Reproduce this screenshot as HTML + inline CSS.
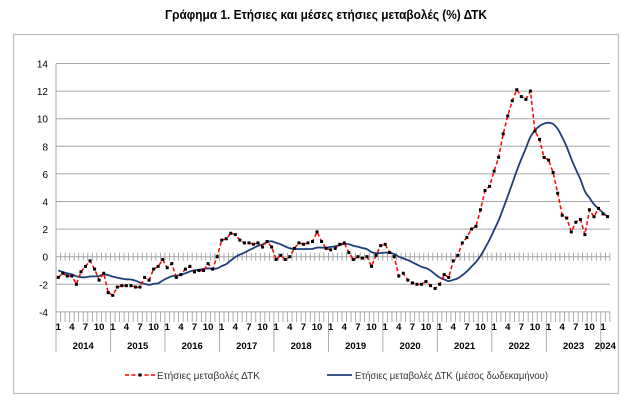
<!DOCTYPE html>
<html><head><meta charset="utf-8"><style>
html,body{margin:0;padding:0;background:#fff;}
svg{display:block;font-family:"Liberation Sans",sans-serif;}
</style></head><body>
<svg id="s" width="624" height="400" xmlns="http://www.w3.org/2000/svg">
<text x="326" y="19" text-anchor="middle" font-size="12.5" font-weight="bold" textLength="322" lengthAdjust="spacingAndGlyphs">Γράφημα 1. Ετήσιες και μέσες ετήσιες μεταβολές (%) ΔΤΚ</text>
<rect x="13.5" y="34.5" width="605" height="359" fill="none" stroke="#bdbdbd" stroke-width="1.2"/>
<g id="g"></g>
</svg>
<script>
var red=[-1.5,-1.2,-1.4,-1.4,-2.0,-1.1,-0.7,-0.3,-0.9,-1.7,-1.2,-2.6,
-2.8,-2.2,-2.1,-2.1,-2.1,-2.2,-2.2,-1.5,-1.7,-0.9,-0.7,-0.2,
-0.8,-0.5,-1.5,-1.3,-0.9,-0.7,-1.1,-1.0,-1.0,-0.5,-0.9,0.0,
1.2,1.3,1.7,1.6,1.2,1.0,1.0,0.9,1.0,0.7,1.1,0.7,
-0.2,0.1,-0.2,0.0,0.6,1.0,0.9,1.0,1.1,1.8,1.1,0.6,
0.5,0.6,0.9,1.0,0.3,-0.2,0.0,-0.1,0.0,-0.7,0.1,0.8,
0.9,0.3,0.0,-1.4,-1.2,-1.7,-1.9,-2.0,-2.0,-1.8,-2.1,-2.3,
-2.0,-1.3,-1.5,-0.3,0.1,1.0,1.4,2.0,2.2,3.4,4.8,5.1,
6.2,7.2,8.9,10.2,11.3,12.1,11.6,11.4,12.0,9.1,8.5,7.2,
7.0,6.1,4.6,3.0,2.8,1.8,2.5,2.7,1.6,3.4,2.9,3.5,
3.1,2.9];
var pre=[0.2,0.1,-0.2,-0.6,-0.3,-0.3,-0.6,-1.0,-1.0,-1.9,-2.9,-1.8];
var all=pre.concat(red),blue=[];
for(var i=0;i<red.length;i++){var s=0;for(var k=i+1;k<=i+12;k++)s+=all[k];blue.push(s/12);}
var L=56,W=4.54,Y0=256.7,U=13.8;
function X(i){return L+W*(i+0.5);}function Y(v){return Y0-v*U;}
var h='',R=L+W*122;
for(var v=-4;v<=14;v+=2){h+='<line x1="'+L+'" x2="'+R+'" y1="'+Y(v)+'" y2="'+Y(v)+'" stroke="#a6a6a6" stroke-width="1"/>';
h+='<text x="48" y="'+(Y(v)+4)+'" text-anchor="end" font-size="10">'+v+'</text>';}
h+='<line x1="'+L+'" x2="'+L+'" y1="'+Y(14)+'" y2="'+Y(-4)+'" stroke="#a6a6a6"/>';
for(var i=0;i<=122;i++){var x=L+W*i;
h+='<line x1="'+x+'" x2="'+x+'" y1="'+(Y0-4)+'" y2="'+(Y0+4)+'" stroke="#9a9a9a" stroke-width="0.8"/>';
h+='<line x1="'+x+'" x2="'+x+'" y1="'+Y(-4)+'" y2="'+(i%12==0?352:322)+'" stroke="#9a9a9a" stroke-width="0.8"/>';}
for(var i=0;i<122;i++){var m=i%12;if(m%3==0){h+='<text x="'+X(i)+'" y="330" text-anchor="middle" font-size="9.5" font-weight="bold">'+(m+1)+'</text>';}}
for(var y=0;y<11;y++){var cx=y<10?L+W*(12*y+6):L+W*121;h+='<text x="'+cx+'" y="349" text-anchor="middle" font-size="9.5" font-weight="bold">'+(2014+y)+'</text>';}
var P=[];for(var i=0;i<122;i++)P.push([X(i),Y(blue[i])]);
var pb='M'+P[0][0].toFixed(1)+','+P[0][1].toFixed(1);
for(var i=0;i<121;i++){var p0=P[Math.max(0,i-1)],p1=P[i],p2=P[i+1],p3=P[Math.min(121,i+2)];
pb+='C'+(p1[0]+(p2[0]-p0[0])/6).toFixed(1)+','+(p1[1]+(p2[1]-p0[1])/6).toFixed(1)+' '+(p2[0]-(p3[0]-p1[0])/6).toFixed(1)+','+(p2[1]-(p3[1]-p1[1])/6).toFixed(1)+' '+p2[0].toFixed(1)+','+p2[1].toFixed(1);}
var pr='';for(var i=0;i<122;i++){pr+=(i?'L':'M')+X(i).toFixed(1)+','+Y(red[i]).toFixed(1);}
h+='<path d="'+pb+'" fill="none" stroke="#1f3f7a" stroke-width="1.8" stroke-linejoin="round"/>';
h+='<path d="'+pr+'" fill="none" stroke="#ff0000" stroke-width="1.5" stroke-dasharray="4,2.5"/>';
for(var i=0;i<122;i++)h+='<rect x="'+(X(i)-1.5)+'" y="'+(Y(red[i])-1.5)+'" width="3" height="3" fill="#000"/>';
h+='<line x1="125" x2="155" y1="375" y2="375" stroke="#ff0000" stroke-width="1.5" stroke-dasharray="4,2.5"/><rect x="138.5" y="373.5" width="3" height="3" fill="#000"/>';
h+='<text x="157" y="379" font-size="10" fill="#333">Ετήσιες μεταβολές ΔΤΚ</text>';
h+='<line x1="327" x2="352" y1="375" y2="375" stroke="#1f3f7a" stroke-width="1.8"/>';
h+='<text x="355" y="379" font-size="10" fill="#333" textLength="193" lengthAdjust="spacingAndGlyphs">Ετήσιες μεταβολές ΔΤΚ (μέσος δωδεκαμήνου)</text>';
document.getElementById('g').innerHTML=h;
</script>
</body></html>
